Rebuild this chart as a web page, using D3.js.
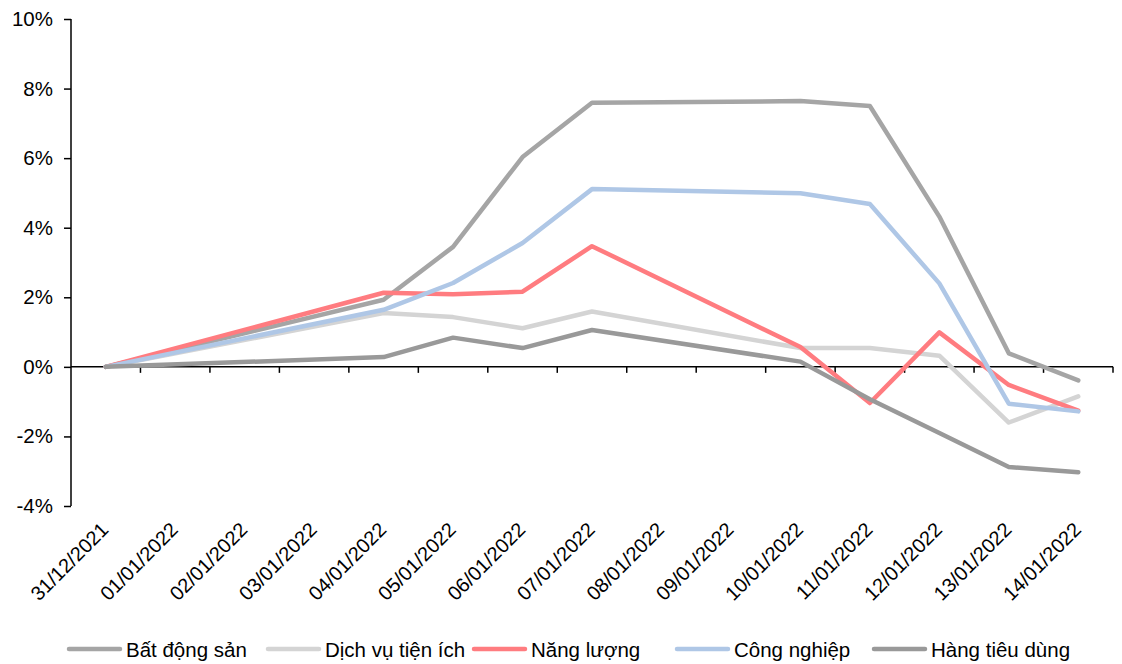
<!DOCTYPE html>
<html>
<head>
<meta charset="utf-8">
<script src="https://cdn.jsdelivr.net/npm/d3@7"></script>
<style>
  body { margin: 0; background: #fff; }
  svg { display: block; font-family: "Liberation Sans", Arial, sans-serif; }
</style>
</head>
<body>
<svg id="chart" width="1122" height="664"></svg>
<script>
// Category labels (calendar days); null = no trading session that day
const dates = ["31/12/2021","01/01/2022","02/01/2022","03/01/2022","04/01/2022","05/01/2022",
  "06/01/2022","07/01/2022","08/01/2022","09/01/2022","10/01/2022","11/01/2022",
  "12/01/2022","13/01/2022","14/01/2022"];

const batDongSan   = [0, null, null, null, 1.93, 3.45, 6.03, 7.59, null, null, 7.64, 7.50, 4.32, 0.39, -0.39];
const dichVu       = [0, null, null, null, 1.55, 1.43, 1.11, 1.59, null, null, 0.54, 0.54, 0.32, -1.60, -0.85];
const nangLuong    = [0, null, null, null, 2.13, 2.09, 2.16, 3.47, null, null, 0.57, -1.04, 0.99, -0.52, -1.26];
const congNghiep   = [0, null, null, null, 1.64, 2.41, 3.56, 5.11, null, null, 4.99, 4.68, 2.40, -1.06, -1.28];
const hangTieuDung = [0, null, null, null, 0.28, 0.84, 0.54, 1.06, null, null, 0.15, -0.93, -1.90, -2.88, -3.03];

const yTicks = [-4, -2, 0, 2, 4, 6, 8, 10];

const seriesNames  = ["Bất động sản", "Dịch vụ tiện ích", "Năng lượng", "Công nghiệp", "Hàng tiêu dùng"];
const seriesValues = [batDongSan, dichVu, nangLuong, congNghiep, hangTieuDung];
const seriesColors = ["#A5A5A5", "#D4D4D4", "#FF7C80", "#AFC7E6", "#999999"];

const FONT = 20.5;
const DATE_FONT = 20;
const svg = d3.select("#chart");
const plot = { left: 71, right: 1113, top: 19, bottom: 506 };

const x = d3.scaleBand().domain(dates).range([plot.left, plot.right]).padding(0);
const y = d3.scaleLinear().domain([-4, 10]).range([plot.bottom, plot.top]);
const cx = d => x(d) + x.bandwidth() / 2;

// Y axis
const yAxis = svg.append("g")
  .attr("transform", `translate(${plot.left},0)`)
  .call(d3.axisLeft(y).tickValues(yTicks).tickSize(7).tickPadding(11).tickFormat(d => d + "%"));
yAxis.attr("font-size", FONT).attr("font-family", "Liberation Sans, Arial, sans-serif");
yAxis.select(".domain").attr("stroke", "#000").attr("stroke-width", 1.5).attr("d", `M0,${plot.top}V${plot.bottom}`);
yAxis.selectAll(".tick line").attr("stroke", "#000").attr("stroke-width", 1.5);
yAxis.selectAll(".tick text").attr("fill", "#000");

// Zero line with ticks at category boundaries
const x0 = svg.append("g").attr("transform", `translate(0,${y(0)})`);
x0.append("line").attr("x1", plot.left).attr("x2", plot.right)
  .attr("stroke", "#000").attr("stroke-width", 1.5);
x0.selectAll("line.tk").data(dates).join("line")
  .attr("class", "tk")
  .attr("x1", d => x(d) + x.bandwidth())
  .attr("x2", d => x(d) + x.bandwidth())
  .attr("y1", 0).attr("y2", 6)
  .attr("stroke", "#000").attr("stroke-width", 1.5);

// Rotated date labels along the bottom
svg.append("g").selectAll("text").data(dates).join("text")
  .attr("transform", d => `translate(${cx(d) + 4},${plot.bottom + 25}) rotate(-45)`)
  .attr("text-anchor", "end")
  .attr("font-size", DATE_FONT)
  .attr("fill", "#000")
  .text(d => d);

// Lines
const line = d3.line()
  .x(d => cx(d.date))
  .y(d => y(d.value));

seriesValues.forEach((vals, i) => {
  const pts = dates.map((d, j) => ({ date: d, value: vals[j] })).filter(p => p.value !== null);
  svg.append("path")
    .datum(pts)
    .attr("fill", "none")
    .attr("stroke", seriesColors[i])
    .attr("stroke-width", 4.5)
    .attr("stroke-linejoin", "round")
    .attr("stroke-linecap", "round")
    .attr("d", line);
});

// Legend
const legendX = [67, 266, 472, 675, 872];
const legend = svg.append("g").attr("transform", "translate(0,649)");
seriesNames.forEach((name, i) => {
  const g = legend.append("g").attr("transform", `translate(${legendX[i]},0)`);
  g.append("line").attr("x1", 2).attr("x2", 53).attr("y1", 0).attr("y2", 0)
    .attr("stroke", seriesColors[i]).attr("stroke-width", 4.5).attr("stroke-linecap", "round");
  g.append("text").attr("x", 59).attr("y", 7.5).attr("font-size", FONT).attr("fill", "#000").text(name);
});
</script>
</body>
</html>
